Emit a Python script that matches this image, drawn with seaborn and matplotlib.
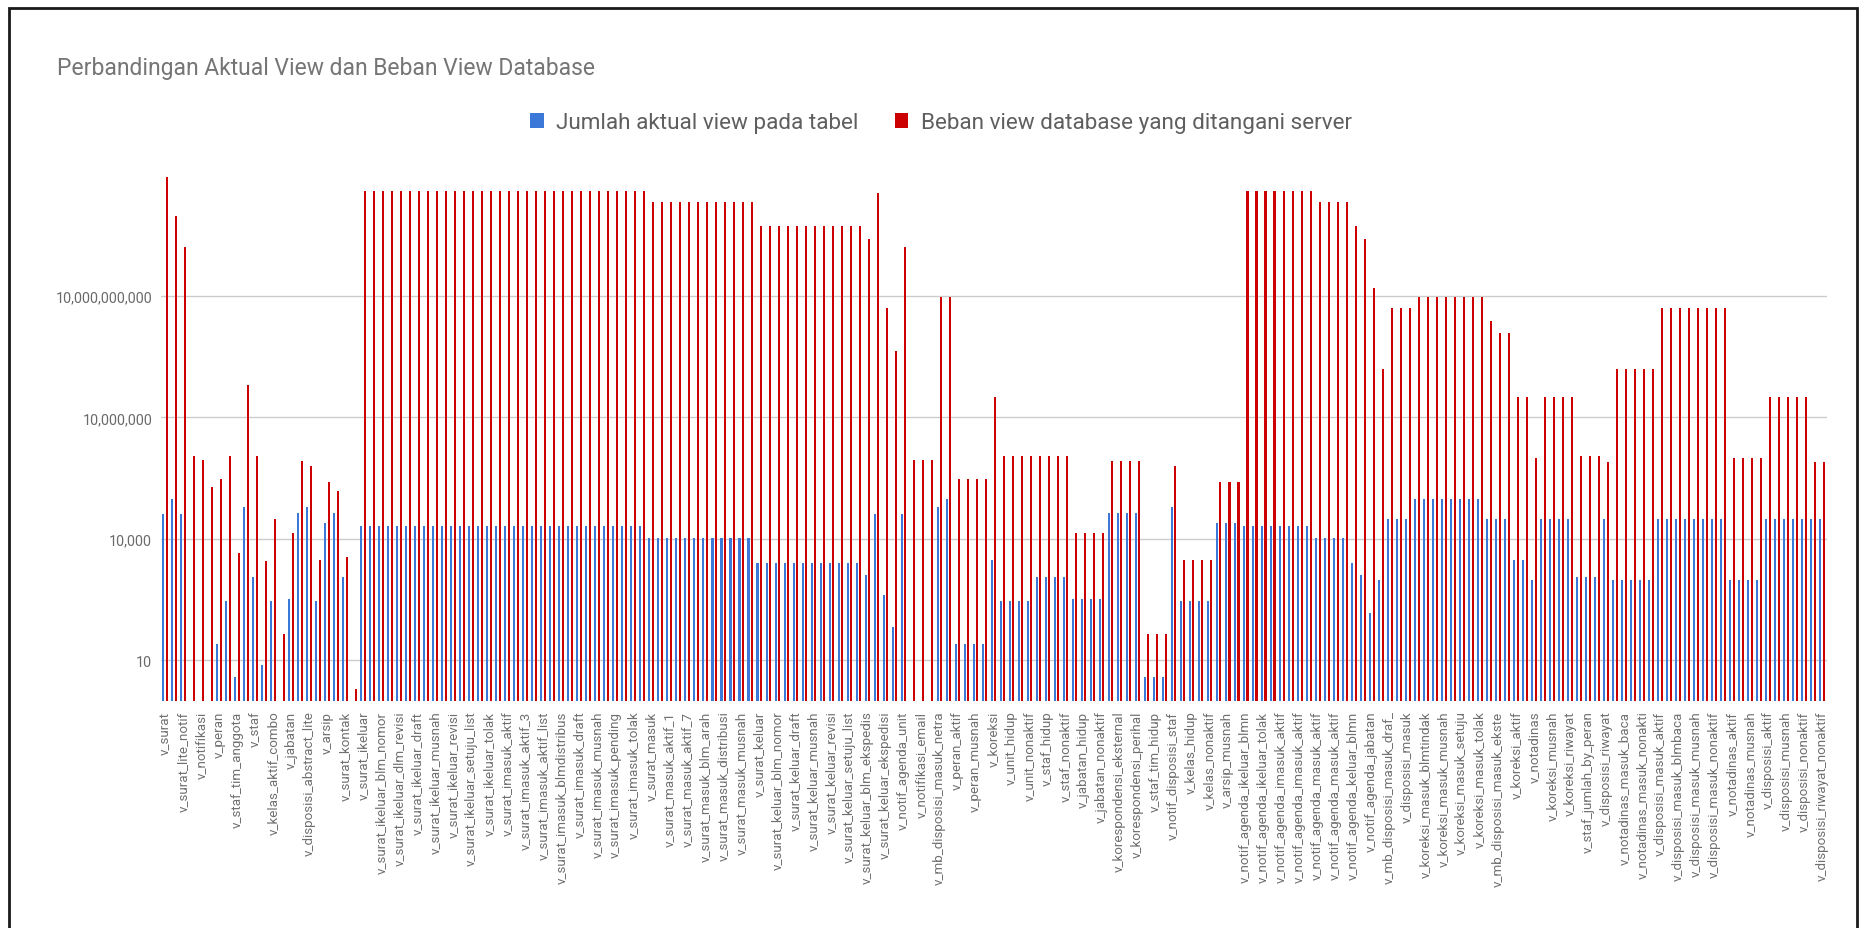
import numpy as np
import pandas as pd
import matplotlib
matplotlib.use("Agg")
import matplotlib.pyplot as plt
import seaborn as sns
from matplotlib.patches import Rectangle
from matplotlib.ticker import FixedLocator, NullLocator

nan = float("nan")

title = "Perbandingan Aktual View dan Beban View Database"
series_names = ["Jumlah aktual view pada tabel",
                "Beban view database yang ditangani server"]

# every second view is labelled on the axis (as in the reference)
labels_shown = [
    "v_surat", "v_surat_lite_notif", "v_notifikasi", "v_peran", "v_staf_tim_anggota",
    "v_staf", "v_kelas_aktif_combo", "v_jabatan", "v_disposisi_abstract_lite", "v_arsip",
    "v_surat_kontak", "v_surat_ikeluar", "v_surat_ikeluar_blm_nomor", "v_surat_ikeluar_dlm_revisi",
    "v_surat_ikeluar_draft", "v_surat_ikeluar_musnah", "v_surat_ikeluar_revisi",
    "v_surat_ikeluar_setuju_list", "v_surat_ikeluar_tolak", "v_surat_imasuk_aktif",
    "v_surat_imasuk_aktif_3", "v_surat_imasuk_aktif_list", "v_surat_imasuk_blmdistribus",
    "v_surat_imasuk_draft", "v_surat_imasuk_musnah", "v_surat_imasuk_pending",
    "v_surat_imasuk_tolak", "v_surat_masuk", "v_surat_masuk_aktif_1", "v_surat_masuk_aktif_7",
    "v_surat_masuk_blm_arah", "v_surat_masuk_distribusi", "v_surat_masuk_musnah",
    "v_surat_keluar", "v_surat_keluar_blm_nomor", "v_surat_keluar_draft",
    "v_surat_keluar_musnah", "v_surat_keluar_revisi", "v_surat_keluar_setuju_list",
    "v_surat_keluar_blm_ekspedis", "v_surat_keluar_ekspedisi", "v_notif_agenda_unit",
    "v_notifikasi_email", "v_mb_disposisi_masuk_netra", "v_peran_aktif", "v_peran_musnah",
    "v_koreksi", "v_unit_hidup", "v_unit_nonaktif", "v_staf_hidup", "v_staf_nonaktif",
    "v_jabatan_hidup", "v_jabatan_nonaktif", "v_korespondensi_eksternal",
    "v_korespondensi_perihal", "v_staf_tim_hidup", "v_notif_disposisi_staf", "v_kelas_hidup",
    "v_kelas_nonaktif", "v_arsip_musnah", "v_notif_agenda_ikeluar_blmn",
    "v_notif_agenda_ikeluar_tolak", "v_notif_agenda_imasuk_aktif", "v_notif_agenda_imasuk_aktif",
    "v_notif_agenda_masuk_aktif", "v_notif_agenda_masuk_aktif", "v_notif_agenda_keluar_blmn",
    "v_notif_agenda_jabatan", "v_mb_disposisi_masuk_draf_", "v_disposisi_masuk",
    "v_koreksi_masuk_blmtindak", "v_koreksi_masuk_musnah", "v_koreksi_masuk_setuju",
    "v_koreksi_masuk_tolak", "v_mb_disposisi_masuk_ekste", "v_koreksi_aktif", "v_notadinas",
    "v_koreksi_musnah", "v_koreksi_riwayat", "v_staf_jumlah_by_peran", "v_disposisi_riwayat",
    "v_notadinas_masuk_baca", "v_notadinas_masuk_nonakti", "v_disposisi_masuk_aktif",
    "v_disposisi_masuk_blmbaca", "v_disposisi_masuk_musnah", "v_disposisi_masuk_nonaktif",
    "v_notadinas_aktif", "v_notadinas_musnah", "v_disposisi_aktif", "v_disposisi_musnah",
    "v_disposisi_nonaktif", "v_disposisi_riwayat_nonaktif",
]

actual_views = [
    40000, 94000, 40000, nan, nan, nan, 26, 290, 4, 60000,                      # 1-10
    1150, 7.5, 290, nan, 330, 43000, 60000, 290, 25000, 43000,                  # 11-20
    1150, nan, 21000, 21000, 21000, 21000, 21000, 21000, 21000, 21000,          # 21-30
    21000, 21000, 21000, 21000, 21000, 21000, 21000, 21000, 21000, 21000,       # 31-40
    21000, 21000, 21000, 21000, 21000, 21000, 21000, 21000, 21000, 21000,       # 41-50
    21000, 21000, 21000, 21000, 10300, 10300, 10300, 10300, 10300, 10300,       # 51-60
    10300, 10300, 10300, 10300, 10300, 10300, 2500, 2500, 2500, 2500,           # 61-70
    2500, 2500, 2500, 2500, 2500, 2500, 2500, 2500, 1290, 40000,                # 71-80
    400, 67, 40000, nan, nan, nan, 60000, 94000, 26, 26,                        # 81-90
    26, 26, 3000, 290, 290, 290, 290, 1150, 1150, 1150,                         # 91-100
    1150, 330, 330, 330, 330, 43000, 43000, 43000, 43000, 4,                    # 101-110
    4, 4, 60000, 290, 290, 290, 290, 25000, 25000, 25000,                       # 111-120
    21000, 21000, 21000, 21000, 21000, 21000, 21000, 21000, 10300, 10300,       # 121-130
    10300, 10300, 2500, 1290, 146, 980, 31600, 31600, 31600, 94000,             # 131-140
    94000, 94000, 94000, 94000, 94000, 94000, 94000, 31600, 31600, 31600,       # 141-150
    3000, 3000, 980, 31600, 31600, 31600, 31600, 1150, 1150, 1150,              # 151-160
    31600, 980, 980, 980, 980, 980, 31600, 31600, 31600, 31600,                 # 161-170
    31600, 31600, 31600, 31600, 980, 980, 980, 980, 31600, 31600,               # 171-180
    31600, 31600, 31600, 31600, 31600,                                          # 181-185
]

server_load = [
    8.5e12, 9.1e11, 1.6e11, 1.1e6, 9e5, 1.9e5, 3e5, 1.1e6, 4500, 6.2e7,         # 1-10
    1.1e6, 2800, 31600, 45, 14000, 8.5e5, 6.2e5, 3000, 2.6e5, 1.5e5,            # 11-20
    3500, 2, 3.9e12, 3.9e12, 3.9e12, 3.9e12, 3.9e12, 3.9e12, 3.9e12, 3.9e12,    # 21-30
    3.9e12, 3.9e12, 3.9e12, 3.9e12, 3.9e12, 3.9e12, 3.9e12, 3.9e12, 3.9e12, 3.9e12,  # 31-40
    3.9e12, 3.9e12, 3.9e12, 3.9e12, 3.9e12, 3.9e12, 3.9e12, 3.9e12, 3.9e12, 3.9e12,  # 41-50
    3.9e12, 3.9e12, 3.9e12, 3.9e12, 2.05e12, 2.05e12, 2.05e12, 2.05e12, 2.05e12, 2.05e12,  # 51-60
    2.05e12, 2.05e12, 2.05e12, 2.05e12, 2.05e12, 2.05e12, 5.2e11, 5.2e11, 5.2e11, 5.2e11,  # 61-70
    5.2e11, 5.2e11, 5.2e11, 5.2e11, 5.2e11, 5.2e11, 5.2e11, 5.2e11, 2.6e11, 3.4e12,  # 71-80
    4.9e9, 4.4e8, 1.6e11, 9e5, 9e5, 9e5, 9.3e9, 9.3e9, 3e5, 3e5,                # 81-90
    3e5, 3e5, 3.2e7, 1.1e6, 1.1e6, 1.1e6, 1.1e6, 1.1e6, 1.1e6, 1.1e6,           # 91-100
    1.1e6, 14000, 14000, 14000, 14000, 8.5e5, 8.5e5, 8.5e5, 8.5e5, 45,          # 101-110
    45, 45, 6.2e5, 3000, 3000, 3000, 3000, 2.6e5, 2.6e5, 2.6e5,                 # 111-120
    3.9e12, 3.9e12, 3.9e12, 3.9e12, 3.9e12, 3.9e12, 3.9e12, 3.9e12, 2.05e12, 2.05e12,  # 121-130
    2.05e12, 2.05e12, 5.2e11, 2.6e11, 1.6e10, 1.55e8, 4.9e9, 4.9e9, 4.9e9, 9.3e9,  # 131-140
    9.3e9, 9.3e9, 9.3e9, 9.3e9, 9.3e9, 9.3e9, 9.3e9, 2.4e9, 1.2e9, 1.2e9,      # 141-150
    3.2e7, 3.2e7, 1.0e6, 3.2e7, 3.2e7, 3.2e7, 3.2e7, 1.1e6, 1.1e6, 1.1e6,       # 151-160
    7.9e5, 1.55e8, 1.55e8, 1.55e8, 1.55e8, 1.55e8, 4.9e9, 4.9e9, 4.9e9, 4.9e9,  # 161-170
    4.9e9, 4.9e9, 4.9e9, 4.9e9, 1.0e6, 1.0e6, 1.0e6, 1.0e6, 3.2e7, 3.2e7,       # 171-180
    3.2e7, 3.2e7, 3.2e7, 7.9e5, 7.9e5,                                          # 181-185
]

ytick_values = [10, 10_000, 10_000_000, 10_000_000_000]
ytick_labels = ["10", "10,000", "10,000,000", "10,000,000,000"]

colors = ["#3c78d8", "#cc0000"]

n = len(actual_views)
df = pd.DataFrame({
    "pos": list(range(n)) * 2,
    "value": actual_views + server_load,
    "series": [series_names[0]] * n + [series_names[1]] * n,
})

sns.set_theme(style="white")
plt.rcParams["font.family"] = ["Roboto", "DejaVu Sans"]

W, H = 1869, 929
fig = plt.figure(figsize=(W / 100, H / 100), dpi=100)
fig.patch.set_facecolor("white")

left, right = 160.5, 1826.5
bottom_y, top_y = 701.9, 175.3
ax = fig.add_axes([left / W, (H - bottom_y) / H, (right - left) / W, (bottom_y - top_y) / H])

sns.barplot(data=df, x="pos", y="value", hue="series", hue_order=series_names,
            palette=colors, saturation=1, width=0.82, gap=0.45, errorbar=None,
            linewidth=0, ax=ax)

ax.set_yscale("log")
ax.set_ylim(1, 1e13)
ax.set_xlim(-0.5, n - 0.5)

ax.yaxis.set_major_locator(FixedLocator(ytick_values))
ax.yaxis.set_minor_locator(NullLocator())
ax.set_yticklabels(ytick_labels)
ax.set_xticks(list(range(0, n, 2)))
ax.set_xticklabels(labels_shown, rotation=90)

ax.tick_params(axis="y", length=0, pad=6, labelsize=10.4, labelcolor="#6a6a6a")
ax.tick_params(axis="x", length=0, pad=7, labelsize=9.6, labelcolor="#6f6f6f")
ax.grid(axis="y", color="#cccccc", linewidth=1)
ax.set_axisbelow(True)
for s in ax.spines.values():
    s.set_visible(False)
ax.set_xlabel("")
ax.set_ylabel("")

handles, labs = ax.get_legend_handles_labels()
ax.get_legend().remove()
fig.legend(handles, labs, ncol=2, loc="center", bbox_to_anchor=(941 / W, 1 - 124 / H),
           frameon=False, fontsize=16.2, handlelength=0.6, handleheight=0.6,
           handletextpad=0.55, columnspacing=1.6, labelcolor="#5f5f5f")

fig.text(57 / W, 1 - 68 / H, title, ha="left", va="center", fontsize=16.5, color="#757575")

fig.add_artist(Rectangle((9 / W, -0.05), (1857 - 9) / W, (H - 9) / H + 0.05,
                         transform=fig.transFigure, fill=False, edgecolor="#1a1a1a", linewidth=2))

fig.savefig("out.png", dpi=100)
